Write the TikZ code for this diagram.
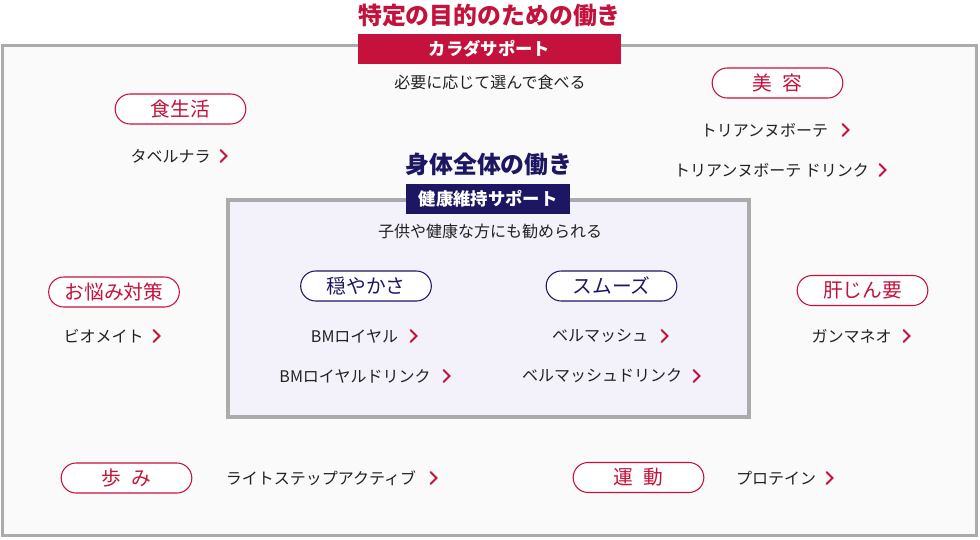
\documentclass[tikz,border=0pt]{standalone}
\usepackage{fontspec}
\setmainfont{Noto Sans CJK JP}
\definecolor{crim}{HTML}{C4123C}
\definecolor{navy}{HTML}{1D1763}
\definecolor{frame}{HTML}{ABABAB}
\definecolor{bg}{HTML}{FAFAFA}
\definecolor{inner}{HTML}{F3F2FA}
\definecolor{ink}{HTML}{222222}
\tikzset{
  pill/.style={draw=#1, line width=0.8pt, fill=white, rounded corners=11.25pt,
    minimum width=98pt, minimum height=22.5pt, inner sep=0pt,
    text=#1, font=\fontsize{14.8}{15}\selectfont},
  item/.style={text=ink, inner sep=0pt, font=\fontsize{12}{13}\selectfont},
  title/.style={inner sep=0pt, font=\fontsize{17.9}{18}\selectfont\bfseries},
  banner/.style={fill=#1, text=white, inner sep=0pt, minimum height=22.5pt,
    font=\fontsize{13}{14}\selectfont\bfseries},
  chev/.style={draw=crim, line width=1.5pt, line cap=round, line join=miter},
  note/.style={text=ink, inner sep=0pt, font=\fontsize{12}{13}\selectfont},
}
\newcommand{\chevat}[2]{\draw[chev] (#1-3.5,#2-6) -- (#1+2.5,#2) -- (#1-3.5,#2+6);}
\begin{document}
\begin{tikzpicture}[x=0.75pt,y=-0.75pt]
\useasboundingbox (0,0) rectangle (980,539);
\fill[white] (0,0) rectangle (980,539);
% outer frame
\draw[frame, line width=2.25pt, fill=bg] (2,45.5) rectangle (976,535.5);
% top title and banner
\node[title, text=crim] (t1) at (489.5,16) {特定の目的のための働き};
\node[banner=crim, minimum width=197pt] (b1) at (489.5,49) {カラダサポート};
\node[note] (n1) at (490,82) {必要に応じて選んで食べる};
% inner box
\draw[frame, line width=2.6pt, fill=inner] (228,200) rectangle (749,417);
\node[title, text=navy] (t2) at (489,164) {身体全体の働き};
\node[banner=navy, minimum width=123pt] (b2) at (488,199) {健康維持サポート};
\node[note] (n2) at (490,231) {子供や健康な方にも勧められる};
% pills
\node[pill=crim] (p1) at (180.5,109) {食生活};
\node[pill=crim] (p2) at (777.5,83) {美\hspace{0.55em}容};
\node[pill=crim] (p3) at (114,292) {お悩み対策};
\node[pill=crim] (p4) at (862.5,290.5) {肝じん要};
\node[pill=crim] (p5) at (126.5,478) {歩\hspace{0.55em}み};
\node[pill=crim] (p6) at (638.5,477.5) {運\hspace{0.55em}動};
\node[pill=navy] (p7) at (366,286) {穏やかさ};
\node[pill=navy] (p8) at (611.5,286) {スムーズ};
% items
\node[item] (i1) at (170.5,156) {タベルナラ}; \chevat{224}{156}
\node[item] (i2) at (764.5,130) {トリアンヌボーテ}; \chevat{846}{130}
\node[item] (i3) at (771.5,170) {トリアンヌボーテ ドリンク}; \chevat{883}{170}
\node[item] (i4) at (354.5,336) {BMロイヤル}; \chevat{414}{336}
\node[item] (i5) at (355,376) {BMロイヤルドリンク}; \chevat{447}{376}
\node[item] (i6) at (600,336) {ベルマッシュ}; \chevat{665}{336}
\node[item] (i7) at (602,376) {ベルマッシュドリンク}; \chevat{697}{376}
\node[item] (i8) at (103.5,336) {ビオメイト}; \chevat{157}{336}
\node[item] (i9) at (851.5,336) {ガンマネオ}; \chevat{907}{336}
\node[item] (i10) at (321,478) {ライトステップアクティブ}; \chevat{434}{478}
\node[item] (i11) at (776,478) {プロテイン}; \chevat{830}{478}
\end{tikzpicture}
\end{document}
